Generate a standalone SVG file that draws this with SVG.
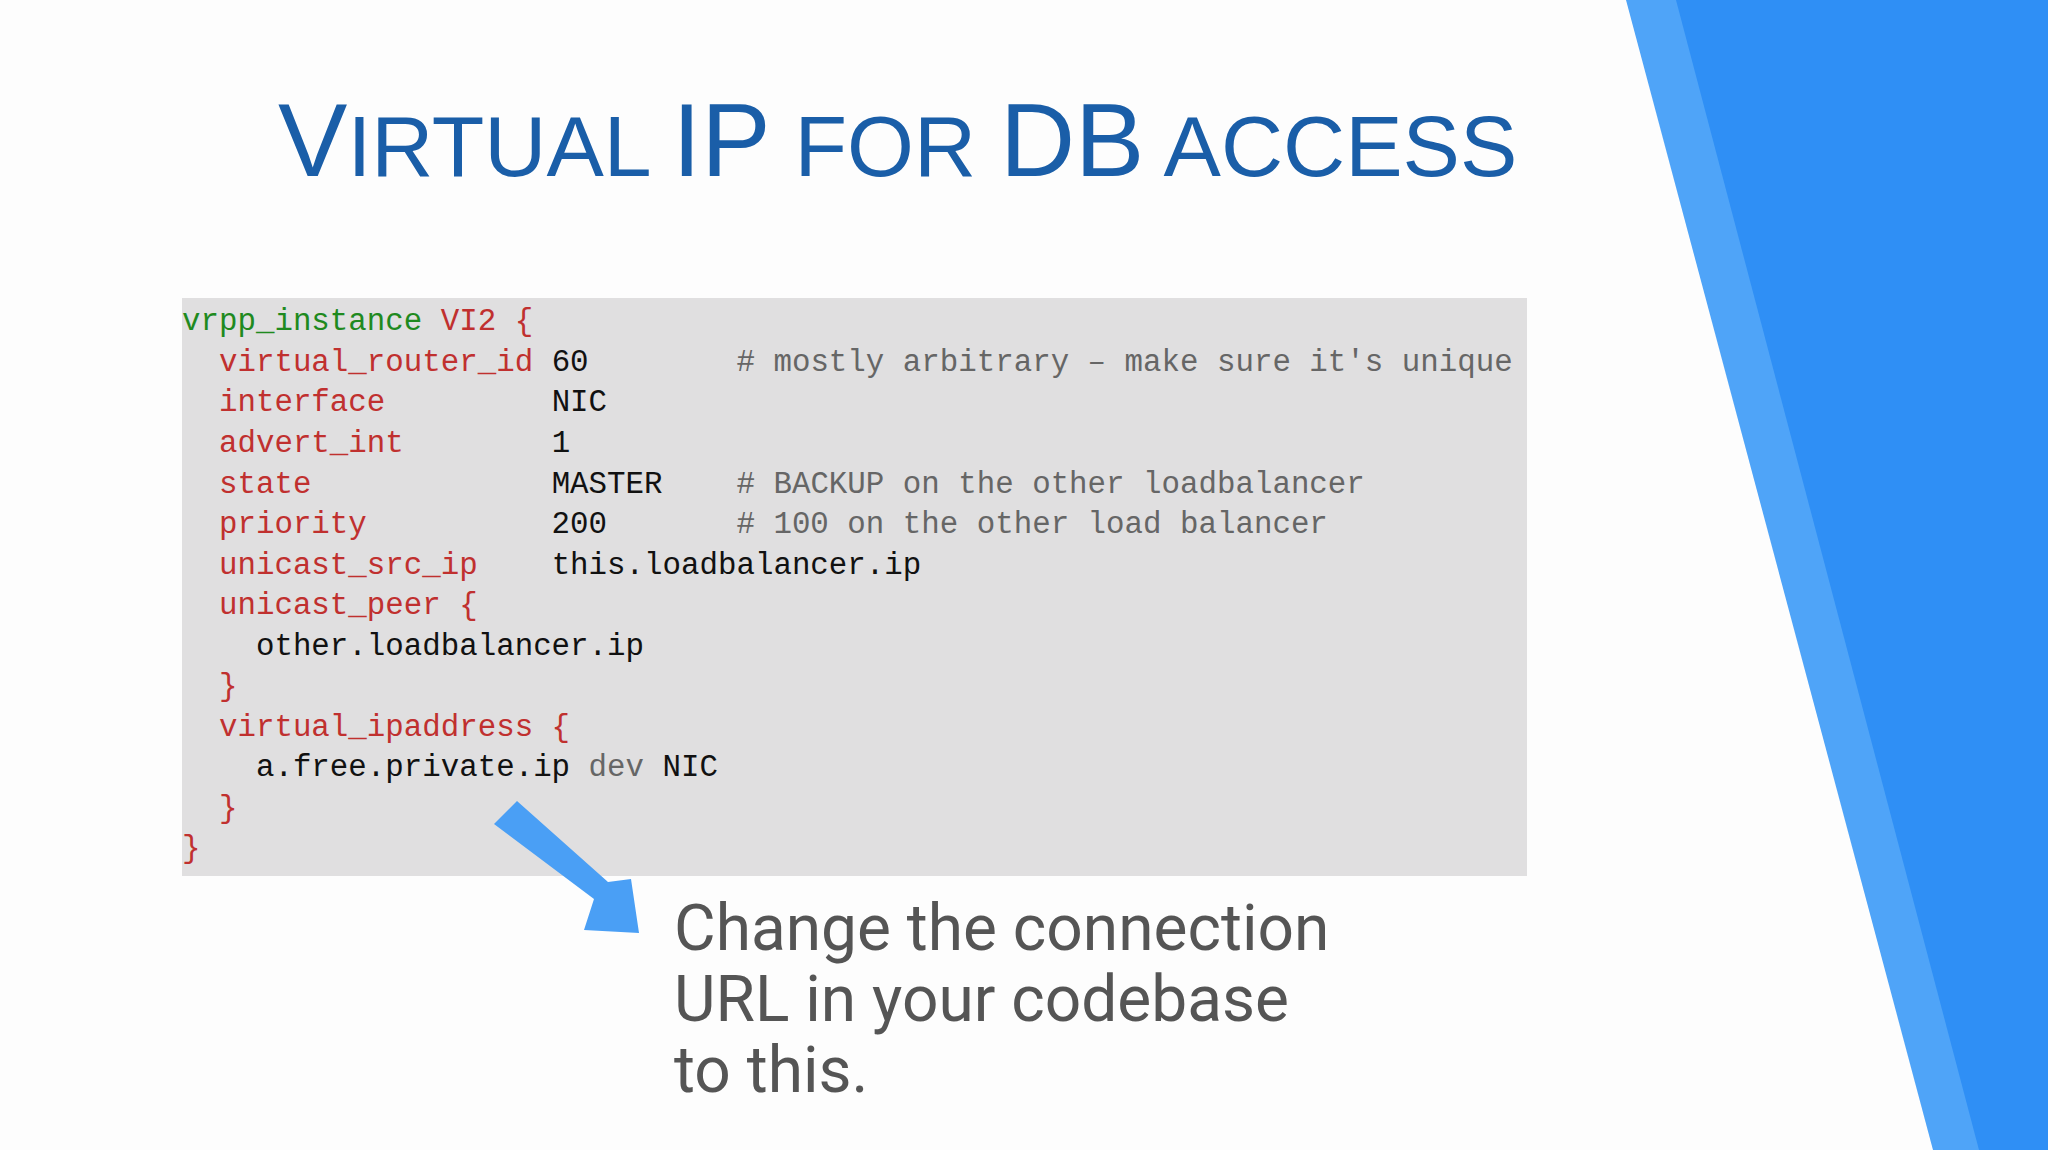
<svg xmlns="http://www.w3.org/2000/svg" width="2048" height="1150" viewBox="0 0 2048 1150">
<style>
.t{font-family:"Liberation Sans",Arial,sans-serif;fill:#1a5ea8}
.c{font-family:"Liberation Mono","DejaVu Sans Mono",monospace;font-size:30.8px;white-space:pre}
.g{fill:#1f8a1f}.r{fill:#c0302f}.k{fill:#111}.m{fill:#666}
.b{font-family:Roboto,"Liberation Sans",sans-serif;font-size:64px;fill:#555}
</style>
<rect width="2048" height="1150" fill="#fdfdfd"/>
<g id="deco">
<polygon points="1626,0 2048,0 2048,1150 1933,1150" fill="#4fa4f8"/>
<polygon points="1676,0 2048,0 2048,1150 1979,1150" fill="#2f8ff5"/>
</g>
<g id="title">
<text class="t" x="278" y="176" font-size="86"><tspan font-size="104">V</tspan>IRTUAL <tspan font-size="104">IP</tspan> FOR <tspan font-size="104">DB</tspan> ACCESS</text>
</g>
<g id="code">
<rect x="182" y="298" width="1345" height="578" fill="#e0dfe0"/>
<text class="c" x="182" y="330" xml:space="preserve"><tspan class="g">vrpp_instance</tspan><tspan class="r"> VI2 {</tspan></text>
<text class="c" x="182" y="371" xml:space="preserve"><tspan class="r">  virtual_router_id</tspan><tspan class="k"> 60</tspan><tspan class="m">        # mostly arbitrary – make sure it's unique</tspan></text>
<text class="c" x="182" y="411" xml:space="preserve"><tspan class="r">  interface</tspan><tspan class="k">         NIC</tspan></text>
<text class="c" x="182" y="452" xml:space="preserve"><tspan class="r">  advert_int</tspan><tspan class="k">        1</tspan></text>
<text class="c" x="182" y="493" xml:space="preserve"><tspan class="r">  state</tspan><tspan class="k">             MASTER</tspan><tspan class="m">    # BACKUP on the other loadbalancer</tspan></text>
<text class="c" x="182" y="533" xml:space="preserve"><tspan class="r">  priority</tspan><tspan class="k">          200</tspan><tspan class="m">       # 100 on the other load balancer</tspan></text>
<text class="c" x="182" y="574" xml:space="preserve"><tspan class="r">  unicast_src_ip</tspan><tspan class="k">    this.loadbalancer.ip</tspan></text>
<text class="c" x="182" y="614" xml:space="preserve"><tspan class="r">  unicast_peer {</tspan></text>
<text class="c" x="182" y="655" xml:space="preserve"><tspan class="k">    other.loadbalancer.ip</tspan></text>
<text class="c" x="182" y="695" xml:space="preserve"><tspan class="r">  }</tspan></text>
<text class="c" x="182" y="736" xml:space="preserve"><tspan class="r">  virtual_ipaddress {</tspan></text>
<text class="c" x="182" y="776" xml:space="preserve"><tspan class="k">    a.free.private.ip </tspan><tspan class="m">dev</tspan><tspan class="k"> NIC</tspan></text>
<text class="c" x="182" y="817" xml:space="preserve"><tspan class="r">  }</tspan></text>
<text class="c" x="182" y="857" xml:space="preserve"><tspan class="r">}</tspan></text>
</g>
<g id="connectors">
<polygon points="494,824 517,801 608,882 631,879 639,933 584,930 594,899" fill="#4a9ff5"/>
</g>
<g id="note">
<text class="b" x="674" y="950">Change the connection</text>
<text class="b" x="674" y="1021">URL in your codebase</text>
<text class="b" x="674" y="1092">to this.</text>
</g>
</svg>
